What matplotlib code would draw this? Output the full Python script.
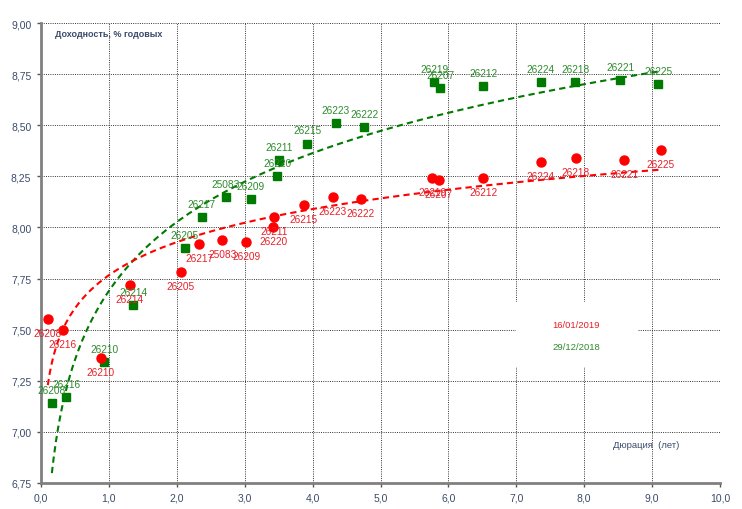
import numpy as np
import matplotlib
matplotlib.use('Agg')
import matplotlib.pyplot as plt
from matplotlib.patches import Rectangle
from matplotlib.ticker import FuncFormatter, MultipleLocator

plt.rcParams['font.family'] = ['Liberation Sans', 'DejaVu Sans']

# bond codes (same order in both series)
codes = ['26208', '26216', '26210', '26214', '26205', '26217', '25083', '26209', '26220', '26211',
         '26215', '26223', '26222', '26219', '26207', '26212', '26224', '26218', '26221', '26225']

# 16/01/2019
dur_new = [0.10, 0.32, 0.88, 1.31, 2.06, 2.33, 2.67, 3.02, 3.42, 3.43,
           3.87, 4.30, 4.71, 5.76, 5.86, 6.51, 7.36, 7.88, 8.59, 9.13]
ytm_new = [7.55, 7.50, 7.36, 7.72, 7.78, 7.92, 7.94, 7.93, 8.00, 8.05,
           8.11, 8.15, 8.14, 8.24, 8.23, 8.24, 8.32, 8.34, 8.33, 8.38]

# 29/12/2018
dur_old = [0.16, 0.37, 0.93, 1.36, 2.12, 2.37, 2.72, 3.09, 3.48, 3.51,
           3.92, 4.34, 4.76, 5.79, 5.88, 6.51, 7.36, 7.87, 8.53, 9.09]
ytm_old = [7.14, 7.17, 7.34, 7.62, 7.90, 8.05, 8.15, 8.14, 8.25, 8.33,
           8.41, 8.51, 8.49, 8.71, 8.68, 8.69, 8.71, 8.71, 8.72, 8.70]

RED = '#ff0000'
RED_TXT = '#e8202a'
GREEN = '#007a00'
GREEN_TXT = '#2e8b2e'
AXIS_TXT = '#3b4b6b'

fig = plt.figure(figsize=(7.42, 5.10), dpi=100)
ax = fig.add_axes([41 / 742, 26 / 510, 679 / 742, 460 / 510])
ax.set_xlim(0, 10)
ax.set_ylim(6.75, 9.0)

ax.xaxis.set_major_locator(MultipleLocator(1))
ax.yaxis.set_major_locator(MultipleLocator(0.25))
ax.xaxis.set_major_formatter(FuncFormatter(lambda v, p: f'{v:.1f}'.replace('.', ',')))
ax.yaxis.set_major_formatter(FuncFormatter(lambda v, p: f'{v:.2f}'.replace('.', ',')))
ax.grid(True, color='#333333', linestyle=(0, (1, 1.3)), linewidth=0.7)
ax.set_axisbelow(True)

for s in ['top', 'right']:
    ax.spines[s].set_visible(False)
for s in ['left', 'bottom']:
    ax.spines[s].set_color('#808080')
    ax.spines[s].set_linewidth(2)
ax.tick_params(length=3, width=1, color='#555555', labelcolor=AXIS_TXT, labelsize=7.5, pad=4)


def log_trend(x, y):
    x = np.asarray(x)
    b, a = np.polyfit(np.log(x), np.asarray(y), 1)
    xs = np.linspace(x.min(), x.max(), 300)
    return xs, a + b * np.log(xs)


xs, ys = log_trend(dur_old, ytm_old)
ax.plot(xs, ys, color=GREEN, linestyle=(0, (3, 2)), linewidth=1.5, zorder=3)
xs, ys = log_trend(dur_new, ytm_new)
ax.plot(xs, ys, color=RED, linestyle=(0, (3, 2)), linewidth=1.5, zorder=3)

ax.plot(dur_old, ytm_old, 's', color=GREEN, markersize=5.5, linestyle='none', zorder=4)
ax.plot(dur_new, ytm_new, 'o', color=RED, markersize=6.5, linestyle='none', zorder=4)

for c, x, y in zip(codes, dur_old, ytm_old):
    ax.annotate(c, (x, y), xytext=(0, 9.5), textcoords='offset points', ha='center', va='center',
                fontsize=7.3, color=GREEN_TXT, zorder=5)
for c, x, y in zip(codes, dur_new, ytm_new):
    ax.annotate(c, (x, y), xytext=(0, -10), textcoords='offset points', ha='center', va='center',
                fontsize=7.3, color=RED_TXT, zorder=5)

# legend block (white, borderless)
ax.add_patch(Rectangle((7.0, 7.317), 1.79, 0.318, facecolor='white', edgecolor='none', zorder=2))
ax.text(7.88, 7.527, '16/01/2019', color=RED_TXT, fontsize=6.8, ha='center', va='center', zorder=5)
ax.text(7.88, 7.42, '29/12/2018', color=GREEN_TXT, fontsize=6.8, ha='center', va='center', zorder=5)

ax.text(0.2, 8.951, 'Доходность, % годовых', color=AXIS_TXT, fontsize=6.5, fontweight='bold',
        ha='left', va='center')
ax.text(8.92, 6.94, 'Дюрация  (лет)', color=AXIS_TXT, fontsize=6.8, ha='center', va='center')

fig.savefig('out.png', dpi=100, facecolor='white')
